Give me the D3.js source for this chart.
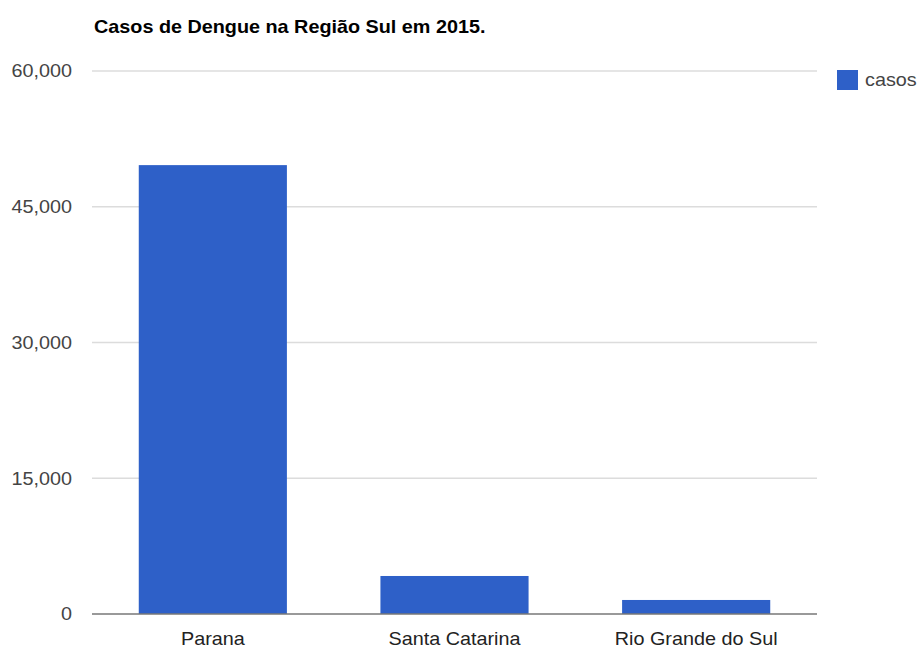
<!DOCTYPE html>
<html>
<head>
<meta charset="utf-8">
<script src="https://cdn.jsdelivr.net/npm/d3@7"></script>
<style>
  body { margin: 0; background: #fff; }
  text { font-family: "Liberation Sans", Arial, sans-serif; }
</style>
</head>
<body>
<div id="chart"></div>
<script>
const title = "Casos de Dengue na Região Sul em 2015.";
const states = ["Parana", "Santa Catarina", "Rio Grande do Sul"];
const casos = [49600, 4200, 1550];
const yTicks = [0, 15000, 30000, 45000, 60000];
const seriesName = "casos";

const width = 922, height = 650;
const margin = {top: 71, right: 105, bottom: 36, left: 92};
const barColor = "#2e60c8";
// the reference text looks a little wider than normal
const stretch = 1.1;
const place = (px, py) => `translate(${px},${py}) scale(${stretch},1)`;

const svg = d3.select("#chart")
    .append("svg")
    .attr("width", width)
    .attr("height", height);

const x = d3.scaleBand()
    .domain(states)
    .range([margin.left, width - margin.right])
    .paddingInner(0.387)
    .paddingOuter(0.1935);

const y = d3.scaleLinear()
    .domain([0, 60000])
    .range([height - margin.bottom, margin.top]);

// gridlines
svg.append("g")
    .selectAll("line")
    .data(yTicks.filter(d => d !== 0))
    .enter().append("line")
    .attr("x1", margin.left)
    .attr("x2", width - margin.right)
    .attr("y1", d => y(d))
    .attr("y2", d => y(d))
    .attr("stroke", "#dcdcdc")
    .attr("stroke-width", 1.5);

// y labels
svg.append("g")
    .selectAll("text")
    .data(yTicks)
    .enter().append("text")
    .attr("transform", d => place(72, y(d)))
    .attr("dy", "0.35em")
    .attr("text-anchor", "end")
    .attr("font-size", 18)
    .attr("fill", "#444")
    .text(d => d3.format(",")(d));

// bars
svg.append("g")
    .selectAll("rect")
    .data(casos)
    .enter().append("rect")
    .attr("x", (d, i) => x(states[i]))
    .attr("width", x.bandwidth())
    .attr("y", d => y(d))
    .attr("height", d => y(0) - y(d))
    .attr("fill", barColor);

// baseline
svg.append("line")
    .attr("x1", margin.left)
    .attr("x2", width - margin.right)
    .attr("y1", y(0))
    .attr("y2", y(0))
    .attr("stroke", "#777")
    .attr("stroke-width", 1.5);

// x labels
svg.append("g")
    .selectAll("text")
    .data(states)
    .enter().append("text")
    .attr("transform", d => place(x(d) + x.bandwidth() / 2, 645))
    .attr("text-anchor", "middle")
    .attr("font-size", 18)
    .attr("fill", "#222")
    .text(d => d);

// title
svg.append("text")
    .attr("transform", place(94, 33))
    .attr("font-size", 18)
    .attr("font-weight", "bold")
    .attr("fill", "#000")
    .text(title);

// legend
const legend = svg.append("g").attr("transform", "translate(837,70)");
legend.append("rect")
    .attr("width", 21)
    .attr("height", 20)
    .attr("fill", barColor);
legend.append("text")
    .attr("transform", place(28, 10))
    .attr("dy", "0.35em")
    .attr("font-size", 18)
    .attr("fill", "#444")
    .text(seriesName);
</script>
</body>
</html>
